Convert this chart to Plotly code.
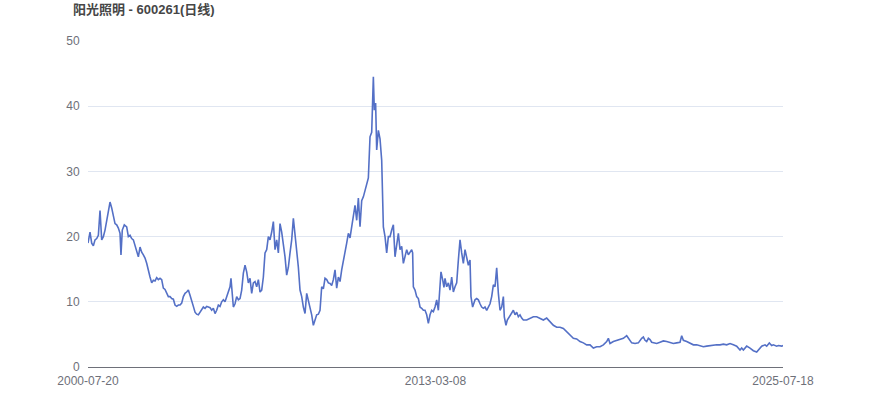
import plotly.graph_objects as go

TITLE = "阳光照明 - 600261(日线)"
N_DAYS = 5838  # index of the last trading day shown
X_TICK_POS = [0, N_DAYS / 2, N_DAYS]
X_TICK_TEXT = ["2000-07-20", "2013-03-08", "2025-07-18"]
Y_TICKS = [0, 10, 20, 30, 40, 50]

# trading-day index of each sample
day = [
    0, 17, 31, 45, 59, 73, 87, 101, 115, 129, 143, 157, 171, 185, 199, 213, 227, 241, 255, 269,
    277, 288, 305, 325, 339, 353, 367, 381, 395, 409, 423, 437, 451, 465, 479, 493, 507, 521, 535, 549,
    563, 577, 591, 605, 619, 633, 647, 661, 675, 689, 703, 717, 731, 745, 759, 773, 787, 801, 815, 829,
    843, 857, 871, 885, 899, 913, 927,
    955, 969, 983, 997, 1011, 1025, 1039, 1053, 1067, 1081, 1095, 1109, 1123, 1137, 1151, 1165, 1179, 1193,
    1201, 1212, 1221, 1235, 1249, 1263, 1277, 1291, 1305, 1319, 1333, 1347, 1361, 1375, 1389, 1403, 1417,
    1431, 1445, 1459, 1473, 1487, 1501, 1515, 1529, 1543, 1557, 1571, 1585, 1599, 1613, 1627, 1641, 1655,
    1669, 1683, 1697, 1711, 1725, 1739, 1753, 1767, 1781, 1795, 1809, 1823, 1837, 1851, 1865, 1879, 1893,
    1921, 1935, 1949, 1963, 1977, 1991, 2005, 2019, 2033, 2047, 2061, 2075, 2089, 2103, 2117, 2131, 2145,
    2159, 2173, 2187, 2201, 2215, 2229, 2243, 2257, 2271, 2285, 2299, 2313, 2327, 2341, 2355, 2369, 2383,
    2397, 2405, 2416, 2425, 2439, 2453, 2467, 2481, 2495, 2509, 2523,
    2537, 2551, 2565, 2579, 2593, 2607, 2621, 2635, 2649, 2663, 2677, 2691, 2705, 2719, 2727, 2733, 2747,
    2761, 2775, 2789, 2803, 2817, 2831, 2845, 2859, 2873, 2887, 2901, 2915, 2929, 2943, 2957, 2965, 2979,
    2990, 2999, 3013, 3027, 3041, 3055, 3069, 3083, 3097, 3111, 3125, 3139, 3153, 3167, 3181, 3195, 3209,
    3217, 3231, 3251, 3265, 3279, 3293, 3307, 3321, 3335, 3349, 3363, 3377, 3391, 3405, 3419, 3433, 3447,
    3461, 3475, 3489, 3497, 3511, 3522, 3539, 3559, 3573, 3587, 3601, 3615, 3629, 3643, 3657, 3685, 3713,
    3741, 3769, 3797, 3825, 3853, 3881, 3909, 3937, 3965, 3993, 4021, 4049, 4077, 4105, 4133, 4161, 4189,
    4217, 4245, 4273, 4301, 4329, 4357, 4371,
    4385, 4413, 4441, 4469, 4497, 4525, 4539, 4553, 4567, 4595, 4623, 4651, 4665, 4679, 4693, 4707, 4721,
    4735, 4749, 4777, 4805, 4833, 4861, 4889, 4917, 4945, 4973, 4987, 5001, 5029, 5057, 5085, 5113, 5141,
    5169, 5197, 5225, 5253, 5281, 5309, 5337, 5365, 5393, 5421, 5449, 5477, 5491, 5505, 5533, 5561, 5589,
    5617, 5631, 5659, 5687, 5701, 5723, 5743, 5757, 5785, 5799, 5827, 5838,
]

# closing price (yuan) of each sample
close = [
    19.0, 20.7, 19.0, 18.6, 19.5, 19.7, 20.2, 24.0, 19.5, 20.0, 21.0, 22.5, 24.0, 25.3, 24.4, 23.0, 22.0, 21.8, 21.3, 20.5,
    17.2, 21.0, 21.8, 21.5, 20.0, 20.2, 19.7, 19.5, 18.7, 18.0, 16.9, 18.4, 17.6, 17.2, 16.7, 15.9, 14.6, 13.8, 12.9, 13.3,
    13.2, 13.7, 13.4, 13.6, 13.4, 12.1, 11.9, 11.3, 10.8, 10.8, 10.5, 10.4, 9.5, 9.3, 9.5, 9.5, 9.8, 10.8, 11.3, 11.5,
    11.8, 11.0, 10.3, 9.3, 8.4, 8.1, 8.0,
    8.7, 9.2, 9.0, 9.3, 9.2, 9.1, 8.7, 9.0, 8.2, 8.7, 9.5, 9.3, 10.0, 10.3, 10.0, 10.8, 11.5, 12.3,
    13.6, 10.3, 9.2, 9.7, 10.8, 10.3, 10.5, 11.8, 14.4, 15.6, 14.6, 12.9, 13.6, 11.3, 12.9, 13.1, 12.3,
    13.4, 11.5, 11.8, 13.8, 17.5, 18.0, 20.0, 19.5, 20.7, 22.3, 18.0, 19.5, 17.5, 22.0, 20.7, 19.0, 16.9,
    14.1, 15.3, 17.5, 19.5, 22.8, 20.5, 18.0, 15.3, 11.8, 10.8, 9.2, 8.2, 11.3, 10.3, 9.2, 8.0, 6.4,
    8.0, 8.1, 8.7, 12.3, 12.0, 13.6, 13.4, 12.9, 12.8, 12.5, 13.4, 14.9, 12.1, 13.8, 13.1, 14.9, 16.1,
    17.6, 19.0, 20.5, 19.8, 21.5, 23.6, 24.8, 22.5, 25.9, 21.5, 25.5, 26.1, 27.1, 27.9, 29.0, 35.3, 36.0,
    44.5, 39.4, 40.5, 33.3, 36.3, 35.0, 31.7, 21.5, 20.0, 17.5, 20.0,
    20.0, 21.0, 21.8, 16.9, 19.0, 20.5, 18.0, 18.5, 15.9, 16.9, 18.0, 17.2, 17.6, 18.0, 17.5, 12.3, 11.8,
    10.8, 10.5, 9.2, 9.0, 8.7, 8.7, 8.0, 6.7, 8.0, 8.7, 8.5, 9.2, 10.3, 8.7, 11.8, 14.6, 13.4,
    12.2, 13.6, 12.3, 12.9, 11.8, 13.8, 11.5, 12.3, 12.9, 16.4, 19.5, 17.5, 15.9, 18.0, 16.9, 15.6, 16.4,
    10.8, 9.2, 10.3, 10.5, 10.3, 9.7, 9.2, 9.0, 9.2, 8.7, 9.2, 9.7, 10.8, 12.6, 12.3, 15.2, 11.3,
    8.7, 9.2, 10.8, 7.7, 6.4, 7.2, 7.7, 8.4, 8.7, 8.0, 8.4, 7.7, 8.0, 7.5, 7.2, 7.2, 7.5,
    7.7, 7.7, 7.5, 7.2, 7.5, 6.9, 6.4, 6.1, 6.1, 5.9, 5.4, 4.9, 4.4, 4.3, 3.9, 3.7, 3.4,
    3.4, 2.9, 3.1, 3.1, 3.4, 3.9, 4.4,
    3.6, 3.9, 4.1, 4.2, 4.4, 4.8, 4.4, 4.1, 3.7, 3.6, 3.7, 4.4, 4.6, 4.1, 3.9, 4.4, 4.2,
    3.8, 3.7, 3.6, 3.8, 4.0, 3.9, 3.7, 3.6, 3.7, 3.8, 4.8, 4.1, 3.9, 3.6, 3.4, 3.4, 3.3,
    3.1, 3.2, 3.3, 3.3, 3.4, 3.4, 3.5, 3.4, 3.6, 3.4, 3.2, 2.6, 2.9, 2.6, 3.2, 2.9, 2.5,
    2.3, 2.6, 3.2, 3.4, 3.2, 3.7, 3.3, 3.4, 3.2, 3.3, 3.2, 3.3,
]

FONT = "Liberation Sans, Arial, Noto Sans CJK SC, sans-serif"
AXIS_GREY = "#6e7079"

fig = go.Figure(
    go.Scatter(
        x=day,
        y=close,
        mode="lines",
        line=dict(color="#5470c6", width=1.6),
        hoverinfo="y",
    )
)

fig.update_layout(
    width=870,
    height=417,
    margin=dict(l=88, r=87, t=41, b=50),
    paper_bgcolor="white",
    plot_bgcolor="white",
    showlegend=False,
    font=dict(family=FONT, size=12, color=AXIS_GREY),
    title=dict(
        text="<b>" + TITLE + "</b>",
        xref="container",
        yref="container",
        x=73 / 870,
        xanchor="left",
        y=1 - 9 / 417,
        yanchor="middle",
        font=dict(family=FONT, size=13, color="#464646"),
    ),
    xaxis=dict(
        range=[0, N_DAYS],
        tickmode="array",
        tickvals=X_TICK_POS,
        ticktext=X_TICK_TEXT,
        showgrid=False,
        zeroline=False,
        showline=True,
        linecolor=AXIS_GREY,
        linewidth=1,
        ticks="outside",
        ticklen=3,
        tickcolor="rgba(0,0,0,0)",
        tickfont=dict(size=12, color=AXIS_GREY),
        fixedrange=True,
    ),
    yaxis=dict(
        range=[0, 50],
        tickmode="array",
        tickvals=Y_TICKS,
        showgrid=True,
        gridcolor="#e0e6f1",
        gridwidth=1,
        zeroline=False,
        showline=False,
        ticks="outside",
        ticklen=5,
        tickcolor="rgba(0,0,0,0)",
        tickfont=dict(size=12, color=AXIS_GREY),
        fixedrange=True,
    ),
)

fig.write_html(
    "out.html",
    config={"displayModeBar": False},
    post_script="document.body.style.margin='0';document.body.style.overflow='hidden';",
)
